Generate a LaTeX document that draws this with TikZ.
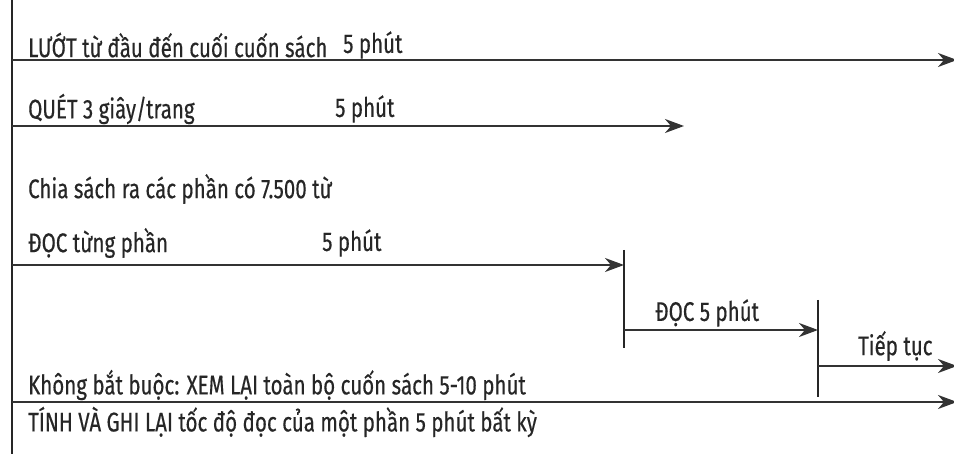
\documentclass[tikz,border=0pt]{standalone}
\usepackage{fontspec}
\setmainfont{Fira Sans}[FakeStretch=0.76,FakeBold=0.4]
\usetikzlibrary{arrows.meta}
\begin{document}
\begin{tikzpicture}[x=1pt,y=-1pt,
  lbl/.style={anchor=west,inner sep=0pt,font=\fontsize{27}{30}\selectfont,text=black!85},
  conn/.style={line width=1.8pt,draw=black!80},
  arr/.style={conn,-{Stealth[length=19pt,width=14pt,inset=6pt]}},
  tick/.style={line width=1.4pt,draw=black!85}]
\useasboundingbox (0,0) rectangle (954,454);
% left axis
\coordinate (axT) at (12,0);
\coordinate (axB) at (12,454);
\draw[tick] (axT) -- (axB);
% arrow end points
\coordinate (a1s) at (12,60);  \coordinate (a1e) at (957,60);
\coordinate (a2s) at (12,126); \coordinate (a2e) at (684,126);
\coordinate (a3s) at (12,265); \coordinate (a3e) at (624,265);
\coordinate (v1t) at (624,250); \coordinate (v1b) at (624,348);
\coordinate (a4s) at (624,330); \coordinate (a4e) at (818,330);
\coordinate (v2t) at (818,300); \coordinate (v2b) at (818,397);
\coordinate (a5s) at (818,366); \coordinate (a5e) at (957,366);
\coordinate (a6s) at (12,402); \coordinate (a6e) at (957,402);
\draw[arr] (a1s) -- (a1e);
\draw[arr] (a2s) -- (a2e);
\draw[arr] (a3s) -- (a3e);
\draw[tick] (v1t) -- (v1b);
\draw[arr] (a4s) -- (a4e);
\draw[tick] (v2t) -- (v2b);
\draw[arr] (a5s) -- (a5e);
\draw[arr] (a6s) -- (a6e);
% labels
\node[lbl] (t1) at (28,45) {LƯỚT từ đầu đến cuối cuốn sách};
\node[lbl] (t1b) at (343,45) {5 phút};
\node[lbl] (t2) at (28,109) {QUÉT 3 giây/trang};
\node[lbl] (t2b) at (335,109) {5 phút};
\node[lbl] (t3) at (28,189) {Chia sách ra các phần có 7.500 từ};
\node[lbl] (t4) at (28,243) {ĐỌC từng phần};
\node[lbl] (t4b) at (322,243) {5 phút};
\node[lbl] (t5) at (655,313) {ĐỌC 5 phút};
\node[lbl] (t6) at (858,346) {Tiếp tục};
\node[lbl] (t7) at (28,385) {Không bắt buộc: XEM LẠI toàn bộ cuốn sách 5-10 phút};
\node[lbl] (t8) at (28,422) {TÍNH VÀ GHI LẠI tốc độ đọc của một phần 5 phút bất kỳ};
\end{tikzpicture}
\end{document}
